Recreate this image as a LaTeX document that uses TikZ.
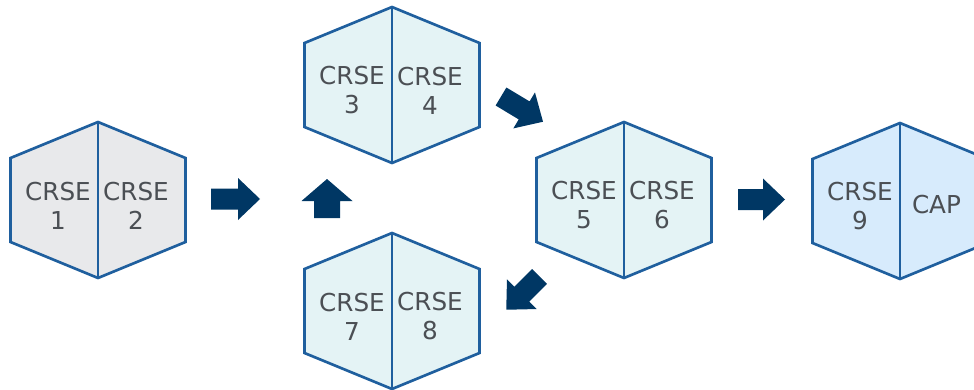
\documentclass[tikz,border=0pt]{standalone}
\usepackage{fontspec}
\setmainfont{DejaVu Sans}
\usetikzlibrary{calc}

\definecolor{hexborder}{HTML}{1F5F9E}
\definecolor{arrownavy}{HTML}{003764}
\definecolor{fillgray}{HTML}{E8E9EB}
\definecolor{fillteal}{HTML}{E4F3F5}
\definecolor{fillblue}{HTML}{D7EBFC}
\definecolor{txtgray}{HTML}{4B4F54}

\tikzset{
  hexline/.style={draw=hexborder, line width=2pt, line join=miter},
  lbl/.style={align=center, text=txtgray, inner sep=0pt,
    font=\fontsize{18.5}{21.75}\selectfont},
  blockarrow/.style={fill=arrownavy, draw=none}
}

% hexagon split in two halves: centre, fill, left text, right text
\newcommand{\hexpair}[4]{%
  \draw[hexline, fill=#2] (#1) ++(0,-78) -- ++(87.5,36) -- ++(0,84)
    -- ++(-87.5,36) -- ++(-87.5,-36) -- ++(0,-84) -- cycle;
  \draw[hexline] (#1) ++(0,-78) -- ++(0,156);
  \node[lbl] (#1l) at ($(#1)+(-40,5.5)$) {#3};
  \node[lbl] (#1r) at ($(#1)+(38,5.5)$) {#4};
}

% block arrow: tail, angle, length, half shaft, half head, head length
\newcommand{\blockarrow}[6]{%
  \fill[blockarrow, shift={(#1)}, rotate=#2] (0,-#4) -- (#3-#6,-#4)
    -- (#3-#6,-#5) -- (#3,0) -- (#3-#6,#5) -- (#3-#6,#4) -- (0,#4) -- cycle;
}

\begin{document}
\begin{tikzpicture}[x=0.75pt, y=-0.75pt]
\clip (0,0) rectangle (974,389);

\coordinate (h12) at (98,200);
\coordinate (h34) at (392,85);
\coordinate (h56) at (624,200);
\coordinate (h78) at (392,311);
\coordinate (h9)  at (900,201);

\hexpair{h12}{fillgray}{CRSE\\1}{CRSE\\2}
\hexpair{h34}{fillteal}{CRSE\\3}{CRSE\\4}
\hexpair{h56}{fillteal}{CRSE\\5}{CRSE\\6}
\hexpair{h78}{fillteal}{CRSE\\7}{CRSE\\8}
\hexpair{h9}{fillblue}{CRSE\\9}{}
\node[lbl] (cap) at ($(h9)+(36.5,3.5)$) {CAP};

% arrows, placed by their tails
\blockarrow{211,199}{0}{49}{10.5}{21}{22}
\blockarrow{327,218}{90}{39}{13}{25.5}{22}
\blockarrow{501,96.5}{-31}{49}{10.5}{21}{22}
\blockarrow{539.5,276.5}{-135}{47}{10.5}{21}{22}
\blockarrow{738,199.5}{0}{47}{10.5}{21}{22}
\end{tikzpicture}
\end{document}
